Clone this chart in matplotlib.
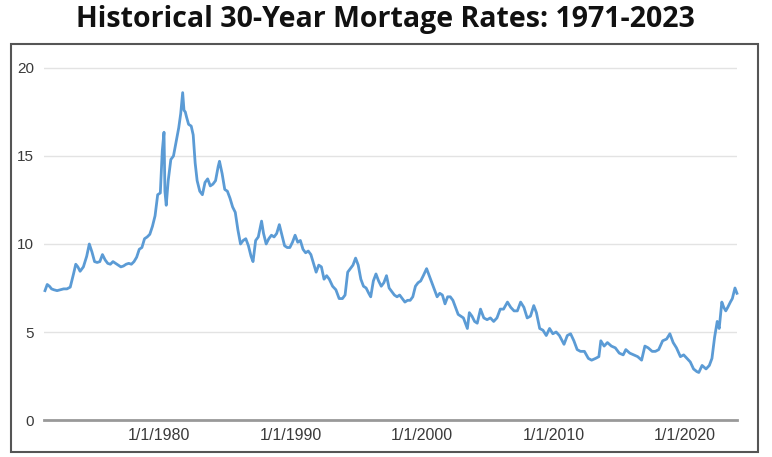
import matplotlib
matplotlib.use("Agg")
import matplotlib.pyplot as plt
from matplotlib.patches import Rectangle

# decimal year, 30-year fixed rate (%)
years = [
    1971.33, 1971.5, 1971.67, 1971.83, 1972.0, 1972.25, 1972.5, 1972.75,
    1973.0, 1973.25, 1973.5, 1973.67, 1973.83, 1974.0, 1974.25, 1974.5, 1974.7, 1974.9,
    1975.1, 1975.3, 1975.5, 1975.7, 1975.9, 1976.1, 1976.3, 1976.5, 1976.7, 1976.9,
    1977.1, 1977.3, 1977.5, 1977.7, 1977.9, 1978.1, 1978.3, 1978.5, 1978.7, 1978.9,
    1979.1, 1979.3, 1979.5, 1979.7, 1979.9, 1980.1, 1980.25, 1980.38, 1980.45, 1980.55,
    1980.7, 1980.9, 1981.1, 1981.3, 1981.5, 1981.65, 1981.8, 1981.9, 1982.0, 1982.1,
    1982.25, 1982.45, 1982.6, 1982.75, 1982.9, 1983.1, 1983.3, 1983.5, 1983.7, 1983.9,
    1984.1, 1984.3, 1984.5, 1984.6, 1984.8, 1985.0, 1985.2, 1985.4, 1985.6, 1985.8,
    1986.0, 1986.2, 1986.4, 1986.6, 1986.8, 1987.0, 1987.15, 1987.35, 1987.55, 1987.8,
    1987.95, 1988.15, 1988.35, 1988.55, 1988.75, 1988.95, 1989.15, 1989.35, 1989.55, 1989.75,
    1989.95, 1990.15, 1990.35, 1990.55, 1990.75, 1990.95, 1991.15, 1991.35, 1991.55, 1991.75,
    1991.95, 1992.15, 1992.35, 1992.55, 1992.75, 1992.95, 1993.2, 1993.45, 1993.7, 1993.95,
    1994.15, 1994.35, 1994.55, 1994.75, 1994.95, 1995.15, 1995.35, 1995.55, 1995.75, 1995.95,
    1996.1, 1996.3, 1996.5, 1996.7, 1996.9, 1997.1, 1997.3, 1997.5, 1997.7, 1997.9,
    1998.1, 1998.3, 1998.5, 1998.7, 1998.9, 1999.1, 1999.3, 1999.5, 1999.7, 1999.9,
    2000.1, 2000.35, 2000.55, 2000.75, 2000.95, 2001.15, 2001.35, 2001.55, 2001.75, 2001.95,
    2002.15, 2002.35, 2002.55, 2002.75, 2002.95, 2003.15, 2003.45, 2003.6, 2003.8, 2004.0,
    2004.2, 2004.45, 2004.7, 2004.95, 2005.2, 2005.45, 2005.7, 2005.95, 2006.2, 2006.5,
    2006.75, 2007.0, 2007.25, 2007.5, 2007.75, 2008.0, 2008.25, 2008.5, 2008.7, 2008.95,
    2009.2, 2009.45, 2009.7, 2009.95, 2010.2, 2010.45, 2010.8, 2011.05, 2011.3, 2011.55,
    2011.8, 2012.05, 2012.35, 2012.65, 2012.9, 2013.2, 2013.45, 2013.6, 2013.85, 2014.1,
    2014.4, 2014.7, 2015.0, 2015.3, 2015.5, 2015.8, 2016.1, 2016.4, 2016.7, 2016.95,
    2017.2, 2017.5, 2017.75, 2018.0, 2018.3, 2018.6, 2018.85, 2019.1, 2019.35, 2019.65,
    2019.9, 2020.15, 2020.4, 2020.65, 2020.9, 2021.05, 2021.3, 2021.6, 2021.85, 2022.05,
    2022.25, 2022.45, 2022.6, 2022.8, 2022.95, 2023.1, 2023.25, 2023.45, 2023.6, 2023.8, 2023.95,
]
rates = [
    7.35, 7.7, 7.6, 7.45, 7.4, 7.35, 7.4, 7.45,
    7.45, 7.55, 8.3, 8.85, 8.7, 8.45, 8.7, 9.3, 10.0, 9.55,
    9.0, 8.95, 9.0, 9.4, 9.1, 8.9, 8.85, 9.0, 8.9, 8.8,
    8.7, 8.75, 8.85, 8.9, 8.85, 9.0, 9.25, 9.7, 9.8, 10.3,
    10.4, 10.55, 11.0, 11.6, 12.8, 12.9, 15.3, 16.35, 13.0, 12.2,
    13.6, 14.8, 15.0, 15.8, 16.6, 17.4, 18.6, 17.6, 17.5, 17.2,
    16.8, 16.7, 16.2, 14.6, 13.6, 13.0, 12.8, 13.5, 13.7, 13.3,
    13.4, 13.6, 14.4, 14.7, 14.0, 13.1, 13.0, 12.6, 12.1, 11.8,
    10.8, 10.0, 10.2, 10.3, 9.9, 9.3, 9.0, 10.2, 10.4, 11.3,
    10.6, 10.0, 10.3, 10.5, 10.4, 10.6, 11.1, 10.5, 9.9, 9.8,
    9.8, 10.1, 10.5, 10.1, 10.2, 9.7, 9.5, 9.6, 9.4, 8.9,
    8.4, 8.8, 8.7, 8.0, 8.2, 8.0, 7.6, 7.4, 6.9, 6.9,
    7.1, 8.4, 8.6, 8.8, 9.2, 8.8, 8.0, 7.6, 7.5, 7.2,
    7.0, 7.9, 8.3, 7.9, 7.6, 7.8, 8.2, 7.5, 7.3, 7.1,
    7.0, 7.1, 6.9, 6.7, 6.8, 6.8, 7.0, 7.6, 7.8, 7.9,
    8.2, 8.6, 8.2, 7.8, 7.4, 7.0, 7.2, 7.1, 6.6, 7.0,
    7.0, 6.8, 6.4, 6.0, 5.9, 5.8, 5.2, 6.1, 5.9, 5.6,
    5.5, 6.3, 5.8, 5.7, 5.8, 5.6, 5.8, 6.3, 6.3, 6.7,
    6.4, 6.2, 6.2, 6.7, 6.4, 5.8, 5.9, 6.5, 6.1, 5.2,
    5.1, 4.8, 5.2, 4.9, 5.0, 4.8, 4.3, 4.8, 4.9, 4.5,
    4.0, 3.9, 3.9, 3.5, 3.4, 3.5, 3.6, 4.5, 4.2, 4.4,
    4.2, 4.1, 3.8, 3.7, 4.0, 3.8, 3.7, 3.6, 3.4, 4.2,
    4.1, 3.9, 3.9, 4.0, 4.5, 4.6, 4.9, 4.4, 4.1, 3.6,
    3.7, 3.5, 3.3, 2.9, 2.75, 2.7, 3.1, 2.9, 3.1, 3.5,
    4.7, 5.6, 5.2, 6.7, 6.4, 6.2, 6.4, 6.7, 6.9, 7.5, 7.2,
]
tick_years = [1980, 1990, 2000, 2010, 2020]
tick_labels = ["1/1/1980", "1/1/1990", "1/1/2000", "1/1/2010", "1/1/2020"]
y_ticks = [0, 5, 10, 15, 20]

W, H = 772, 457
fig = plt.figure(figsize=(W / 100, H / 100), dpi=100)

# outer frame around the chart
fig.add_artist(Rectangle((11 / W, 1 - 452 / H), 747 / W, 408 / H,
                         transform=fig.transFigure, fill=False,
                         edgecolor="#555555", linewidth=1.5))

fig.text(385 / W, 1 - 19 / H, "Historical 30-Year Mortage Rates: 1971-2023",
         ha="center", va="center", fontsize=20.5, fontweight="bold",
         family="Open Sans", color="#111111")

left, right = 44, 737
bottom, top = 420, 59
ax = fig.add_axes([left / W, 1 - bottom / H, (right - left) / W, (bottom - top) / H])

ax.plot(years, rates, color="#5b9bd5", linewidth=2.0, clip_on=False)

px_per_year = 13.15
x0 = 1980 - (159 - left) / px_per_year
x1 = 1980 + (right - 159) / px_per_year
ax.set_xlim(x0, x1)
ax.set_ylim(0, (bottom - top) / 17.6)

ax.set_yticks(y_ticks)
ax.set_xticks(tick_years)
ax.set_xticklabels(tick_labels)
ax.tick_params(length=0, labelcolor="#3a3a3a")
ax.tick_params(axis="y", pad=7, labelsize=11)
ax.tick_params(axis="x", pad=6, labelsize=11.5)
for lab in ax.get_xticklabels() + ax.get_yticklabels():
    lab.set_family("Liberation Sans")

ax.grid(axis="y", color="#e3e3e3", linewidth=1)
ax.set_axisbelow(True)
for s in ["top", "right", "left"]:
    ax.spines[s].set_visible(False)
ax.spines["bottom"].set_color("#999999")
ax.spines["bottom"].set_linewidth(2)

fig.savefig("out.png", dpi=100)
